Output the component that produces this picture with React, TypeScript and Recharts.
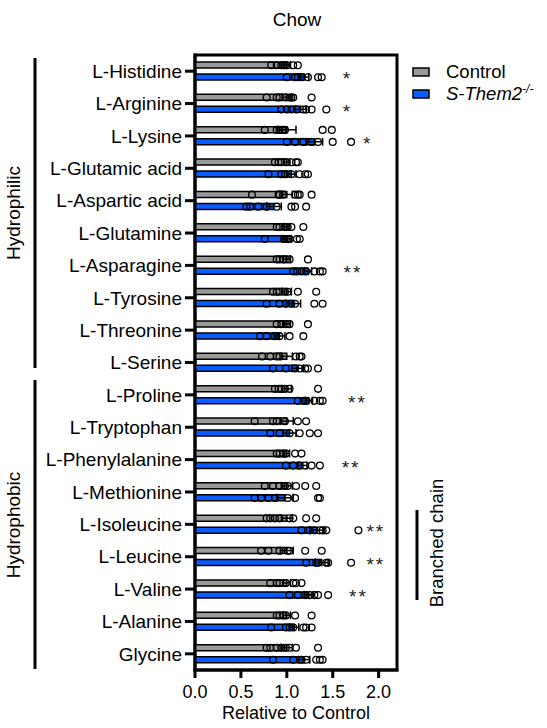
import React from 'react'
import { ComposedChart, Bar, Scatter, XAxis, YAxis, ErrorBar, ReferenceArea } from 'recharts'

const aminoAcids = [
  'L-Histidine', 'L-Arginine', 'L-Lysine', 'L-Glutamic acid', 'L-Aspartic acid',
  'L-Glutamine', 'L-Asparagine', 'L-Tyrosine', 'L-Threonine', 'L-Serine',
  'L-Proline', 'L-Tryptophan', 'L-Phenylalanine', 'L-Methionine', 'L-Isoleucine',
  'L-Leucine', 'L-Valine', 'L-Alanine', 'Glycine',
]

const controlMean = [1, 1, 1, 1, 1, 1, 1, 1, 1, 1, 1, 1, 1, 1, 1, 1, 1, 1, 1]
const controlSem = [0.04, 0.05, 0.1, 0.03, 0.06, 0.03, 0.04, 0.05, 0.04, 0.06, 0.05, 0.07, 0.03, 0.06, 0.06, 0.07, 0.04, 0.04, 0.06]
const koMean = [1.19, 1.15, 1.3, 1.05, 0.86, 1.0, 1.23, 1.07, 0.92, 1.12, 1.24, 1.03, 1.17, 0.98, 1.33, 1.38, 1.24, 1.08, 1.19]
const koSem = [0.05, 0.06, 0.09, 0.05, 0.08, 0.05, 0.04, 0.08, 0.06, 0.06, 0.04, 0.07, 0.05, 0.09, 0.08, 0.07, 0.05, 0.05, 0.06]

const controlPoints = [
  [0.83, 0.89, 0.94, 0.96, 0.98, 1.0, 1.07, 1.12],
  [0.78, 0.89, 0.92, 0.99, 1.03, 1.05, 1.07, 1.27],
  [0.76, 0.89, 0.92, 0.95, 0.98, 1.39, 1.49],
  [0.87, 0.91, 0.94, 1.0, 1.05, 1.1, 1.12],
  [0.62, 0.91, 0.92, 0.96, 1.09, 1.12, 1.14, 1.27],
  [0.89, 0.92, 0.98, 1.01, 1.05, 1.18],
  [0.89, 0.92, 0.96, 0.99, 1.03, 1.23],
  [0.85, 0.89, 0.92, 0.98, 1.01, 1.12, 1.32],
  [0.89, 0.94, 0.99, 1.03, 1.23],
  [0.73, 0.82, 0.89, 0.92, 1.1, 1.14, 1.16],
  [0.87, 0.91, 0.94, 0.98, 1.03, 1.34],
  [0.65, 0.85, 0.89, 0.98, 1.12, 1.21],
  [0.89, 0.92, 0.96, 0.99, 1.09, 1.16],
  [0.76, 0.85, 0.92, 0.98, 1.01, 1.1, 1.2, 1.32],
  [0.78, 0.82, 0.87, 0.92, 1.03, 1.07, 1.21, 1.32],
  [0.72, 0.8, 0.92, 1.01, 1.03, 1.2, 1.38],
  [0.82, 0.89, 0.92, 0.99, 1.07, 1.1, 1.16],
  [0.89, 0.92, 0.96, 0.99, 1.09, 1.27],
  [0.78, 0.82, 0.89, 0.94, 0.99, 1.03, 1.1, 1.34],
]

const koPoints = [
  [1.0, 1.09, 1.12, 1.16, 1.23, 1.34, 1.38],
  [0.94, 1.0, 1.05, 1.11, 1.18, 1.21, 1.27, 1.43],
  [1.0, 1.09, 1.18, 1.27, 1.34, 1.5, 1.7],
  [0.8, 0.94, 0.98, 1.05, 1.14, 1.2, 1.23],
  [0.56, 0.6, 0.69, 0.78, 0.89, 1.05, 1.09, 1.21],
  [0.76, 0.97, 0.99, 1.01, 1.03, 1.11, 1.14],
  [1.07, 1.11, 1.16, 1.21, 1.3, 1.36, 1.39],
  [0.78, 0.92, 0.99, 1.05, 1.09, 1.3, 1.39],
  [0.71, 0.78, 0.87, 0.92, 1.03, 1.18],
  [0.85, 0.99, 1.09, 1.14, 1.2, 1.23, 1.34],
  [1.12, 1.18, 1.21, 1.3, 1.36, 1.39],
  [0.82, 0.92, 1.03, 1.14, 1.25, 1.34],
  [0.99, 1.07, 1.14, 1.2, 1.27, 1.36],
  [0.65, 0.72, 0.8, 0.87, 1.01, 1.09, 1.34, 1.36],
  [1.16, 1.25, 1.3, 1.36, 1.39, 1.43, 1.78],
  [1.21, 1.32, 1.34, 1.43, 1.45, 1.7],
  [1.03, 1.12, 1.2, 1.25, 1.3, 1.34, 1.45],
  [0.83, 0.99, 1.03, 1.07, 1.18, 1.21, 1.27],
  [0.85, 1.07, 1.16, 1.21, 1.32, 1.36, 1.39],
]

const sigLabels = ['*', '*', '*', '', '', '', '**', '', '', '', '**', '', '**', '', '**', '**', '**', '', '']
const sigAt = [1.66, 1.66, 1.88, null, null, null, 1.72, null, null, null, 1.77, null, 1.7, null, 1.97, 1.97, 1.78, null, null]

const xTicks = [0, 0.5, 1, 1.5, 2]

const MAX_PTS = 8
const FONT = '"Liberation Sans", Arial, sans-serif'
const GREY = '#9a9a9a'
const BLUE = '#0b5cff'
const BAR = 6
const GAP = 6

const data = aminoAcids.map((name, i) => {
  const row: Record<string, any> = {
    name,
    ctrl: controlMean[i],
    ctrlErr: controlSem[i],
    ko: koMean[i],
    koErr: koSem[i],
    sig: sigLabels[i],
    sigX: sigAt[i],
  }
  for (let j = 0; j < MAX_PTS; j++) {
    row[`c${j}`] = controlPoints[i][j] ?? null
    row[`k${j}`] = koPoints[i][j] ?? null
  }
  return row
})

const dot = (shift: number) => (props: any) => {
  const { cx, cy } = props
  if (cx == null || cy == null || !Number.isFinite(cx)) return <g />
  return <circle cx={cx} cy={cy + shift} r={3.4} fill="none" stroke="#000" strokeWidth={1.3} />
}

const star = (props: any) => {
  const { cx, cy, payload } = props
  if (cx == null || !Number.isFinite(cx) || !payload?.sig) return <g />
  return (
    <text x={cx} y={cy + 14} textAnchor="middle" fontSize={19} fontFamily={FONT} fill="#222" letterSpacing={2}>
      {payload.sig}
    </text>
  )
}

const Annotations = () => (
  <svg width={547} height={728} style={{ position: 'absolute', left: 0, top: 0, pointerEvents: 'none' }} fontFamily={FONT}>
    <text x={297} y={26} textAnchor="middle" fontSize={19}>Chow</text>

    <line x1={35} y1={58} x2={35} y2={368} stroke="#000" strokeWidth={3} />
    <text x={20} y={213} transform="rotate(-90 20 213)" textAnchor="middle" fontSize={19}>Hydrophilic</text>
    <line x1={35} y1={380} x2={35} y2={669} stroke="#000" strokeWidth={3} />
    <text x={20} y={525} transform="rotate(-90 20 525)" textAnchor="middle" fontSize={19}>Hydrophobic</text>

    <line x1={417} y1={510} x2={417} y2={600} stroke="#000" strokeWidth={3} />
    <text x={443} y={543} transform="rotate(-90 443 543)" textAnchor="middle" fontSize={18.5}>Branched chain</text>

    <rect x={413} y={68} width={16} height={8} fill={GREY} stroke="#000" strokeWidth={1.5} />
    <text x={446} y={78} fontSize={18.5}>Control</text>
    <rect x={413} y={90} width={16} height={8} fill={BLUE} stroke="#000" strokeWidth={1.5} />
    <text x={446} y={100} fontSize={18.5} fontStyle="italic">
      S-Them2<tspan fontSize={12} dy={-7}>-/-</tspan>
    </text>
  </svg>
)

export default function App() {
  return (
    <div style={{ position: 'absolute', left: 0, top: 0, width: 547, height: 728, background: '#fff' }}>
      <ComposedChart
        width={547}
        height={728}
        data={data}
        layout="vertical"
        margin={{ top: 55, right: 150, bottom: 0, left: 0 }}
        barSize={BAR}
        barGap={GAP}
      >
        <XAxis
          type="number"
          domain={[0, 2.2]}
          ticks={xTicks}
          allowDataOverflow
          tickFormatter={(v: number) => v.toFixed(1)}
          height={58}
          tickSize={8}
          tickMargin={7}
          tick={{ fontSize: 18, fill: '#000', fontFamily: FONT }}
          axisLine={{ stroke: '#000', strokeWidth: 3, strokeLinecap: 'square' }}
          tickLine={{ stroke: '#000', strokeWidth: 3 }}
          label={{ value: 'Relative to Control', position: 'insideBottom', offset: 9, fontSize: 18, fill: '#000', fontFamily: FONT }}
        />
        <YAxis
          type="category"
          dataKey="name"
          width={195}
          interval={0}
          tickSize={10}
          tickMargin={3}
          tick={{ fontSize: 19, fill: '#000', fontFamily: FONT }}
          axisLine={{ stroke: '#000', strokeWidth: 3, strokeLinecap: 'square' }}
          tickLine={{ stroke: '#000', strokeWidth: 3 }}
        />
        <ReferenceArea x1={0} x2={2.2} fill="none" fillOpacity={0} stroke="#000" strokeWidth={3} ifOverflow="visible" />
        <Bar dataKey="ctrl" name="Control" fill={GREY} stroke="#000" strokeWidth={1.5} isAnimationActive={false}>
          <ErrorBar dataKey="ctrlErr" direction="x" width={4} stroke="#000" strokeWidth={1.5} />
        </Bar>
        <Bar dataKey="ko" name="S-Them2-/-" fill={BLUE} stroke="#000" strokeWidth={1.5} isAnimationActive={false}>
          <ErrorBar dataKey="koErr" direction="x" width={4} stroke="#000" strokeWidth={1.5} />
        </Bar>
        {Array.from({ length: MAX_PTS }, (_, j) => (
          <Scatter key={`c${j}`} dataKey={`c${j}`} shape={dot(-(BAR + GAP) / 2)} isAnimationActive={false} />
        ))}
        {Array.from({ length: MAX_PTS }, (_, j) => (
          <Scatter key={`k${j}`} dataKey={`k${j}`} shape={dot((BAR + GAP) / 2)} isAnimationActive={false} />
        ))}
        <Scatter dataKey="sigX" shape={star} isAnimationActive={false} />
      </ComposedChart>
      <Annotations />
    </div>
  )
}
